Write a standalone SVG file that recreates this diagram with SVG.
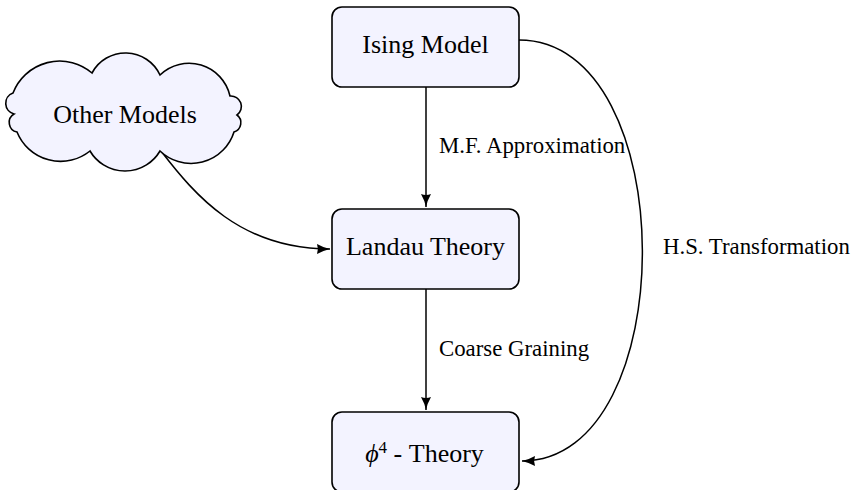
<svg xmlns="http://www.w3.org/2000/svg" width="853" height="490" viewBox="0 0 853 490">
  <defs>
    <style>
      .node { fill: #f3f3ff; stroke: #000; stroke-width: 1.6; }
      .edge { fill: none; stroke: #000; stroke-width: 1.5; }
      .ntext { font-family: "Liberation Serif", "DejaVu Serif", serif; font-size: 26px; fill: #000; text-anchor: middle; }
      .ltext { font-family: "Liberation Serif", "DejaVu Serif", serif; font-size: 22.8px; fill: #000; }
    </style>
    <marker id="arrow" markerUnits="userSpaceOnUse" markerWidth="15" markerHeight="12" refX="13" refY="5.5" orient="auto" viewBox="0 0 15 11">
      <path d="M0,0.5 Q6.5,4.2 13,5.5 Q6.5,6.8 0,10.5 Q1.8,5.5 0,0.5 z" fill="#000"/>
    </marker>
  </defs>

  <!-- connectors -->
  <g id="edges">
    <path id="e-ising-landau" class="edge" d="M426,87 L426,207" marker-end="url(#arrow)"/>
    <path id="e-landau-phi" class="edge" d="M426,289 L426,410" marker-end="url(#arrow)"/>
    <path id="e-other-landau" class="edge" d="M161,151 C195,195 240,249 330,249" marker-end="url(#arrow)"/>
    <path id="e-ising-phi" class="edge" d="M519,40 C683,40 683,461 522,461" marker-end="url(#arrow)"/>
    <text class="ltext" x="439" y="153">M.F. Approximation</text>
    <text class="ltext" x="439" y="356">Coarse Graining</text>
    <text class="ltext" x="663" y="254">H.S. Transformation</text>
  </g>

  <!-- nodes -->
  <g id="other-models">
    <path class="node" d="M13,93 A50,50 0 0 1 92,73 A38,38 0 0 1 160,75 A42,42 0 0 1 230,96 A10.5,10.5 0 0 1 237,115 A9.7,9.7 0 0 1 234,132 A45,45 0 0 1 160,151 A40.6,40.6 0 0 1 90,151 A47,47 0 0 1 17,132 A9.8,9.8 0 0 1 14,114 A11,11 0 0 1 13,93 z"/>
    <text class="ntext" x="125" y="123">Other Models</text>
  </g>

  <g id="ising">
    <rect class="node" x="332" y="7" width="187" height="80" rx="10" ry="10"/>
    <text class="ntext" x="425.5" y="53">Ising Model</text>
  </g>

  <g id="landau">
    <rect class="node" x="332" y="209" width="187" height="80" rx="10" ry="10"/>
    <text class="ntext" x="425.5" y="255">Landau Theory</text>
  </g>

  <g id="phi4">
    <rect class="node" x="332" y="412" width="187" height="80" rx="10" ry="10"/>
    <text class="ntext" x="424.5" y="462"><tspan font-style="italic">ϕ</tspan><tspan dy="-9" font-size="17">4</tspan><tspan dy="9"> - Theory</tspan></text>
  </g>
</svg>
